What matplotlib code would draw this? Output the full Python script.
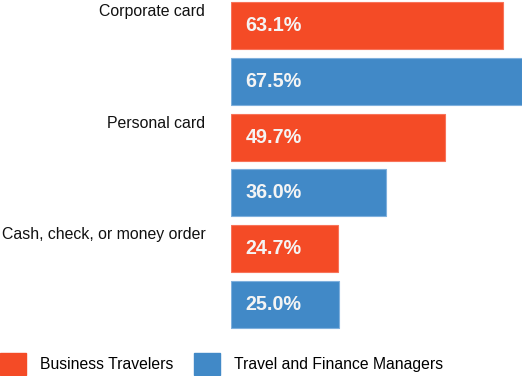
import matplotlib.pyplot as plt
from matplotlib.patches import Patch

plt.rcParams['font.family'] = ['Liberation Sans', 'DejaVu Sans']

categories = ["Corporate card", "Personal card", "Cash, check, or money order"]
series_names = ["Business Travelers", "Travel and Finance Managers"]
travelers = [63.1, 49.7, 24.7]
managers = [67.5, 36.0, 25.0]
colors = ["#F44B26", "#4189C7"]

W, H = 522, 376
fig = plt.figure(figsize=(W / 100, H / 100), dpi=100)

# axes placed in pixels: bars start at x=231, blue top bar touches right edge
left, top, bottom = 231.3, 0, 334
ax = fig.add_axes([left / W, 1 - bottom / H, (W - left) / W, (bottom - top) / H])

step = 55.7
first_center = 25.7
bar_h = 47 / step

ys_t = [2 * i for i in range(len(categories))]
ys_m = [2 * i + 1 for i in range(len(categories))]

ax.barh(ys_t, travelers, height=bar_h, color=colors[0], edgecolor="#F8735A", linewidth=0.8)
ax.barh(ys_m, managers, height=bar_h, color=colors[1], edgecolor="#7FB0DD", linewidth=0.8)

ax.set_xlim(0, max(managers))
ax.set_ylim((bottom - first_center) / step, -first_center / step)
ax.axis("off")

for y, v in list(zip(ys_t, travelers)) + list(zip(ys_m, managers)):
    ax.annotate(f"{v:.1f}%", xy=(0, y), xytext=(14 * 0.72, 0), textcoords="offset points",
                ha="left", va="center", color="#F4F4F4", fontsize=14.2, fontweight="bold")

for y, name in zip(ys_t, categories):
    ax.annotate(name, xy=(0, y - bar_h / 2), xycoords=ax.get_yaxis_transform(),
                xytext=(-26 * 0.72, -1.5), textcoords="offset points",
                ha="right", va="top", fontsize=11.4, color="#111111", annotation_clip=False)

handles = [Patch(facecolor=c, edgecolor=c) for c in colors]
fig.legend(handles, series_names, loc="lower left", bbox_to_anchor=(0, 0.002),
           ncol=2, frameon=False, fontsize=11.3, borderpad=0, borderaxespad=0,
           handlelength=1.66, handleheight=1.78, handletextpad=0.89, columnspacing=1.34)

fig.savefig("out.png", dpi=100)
